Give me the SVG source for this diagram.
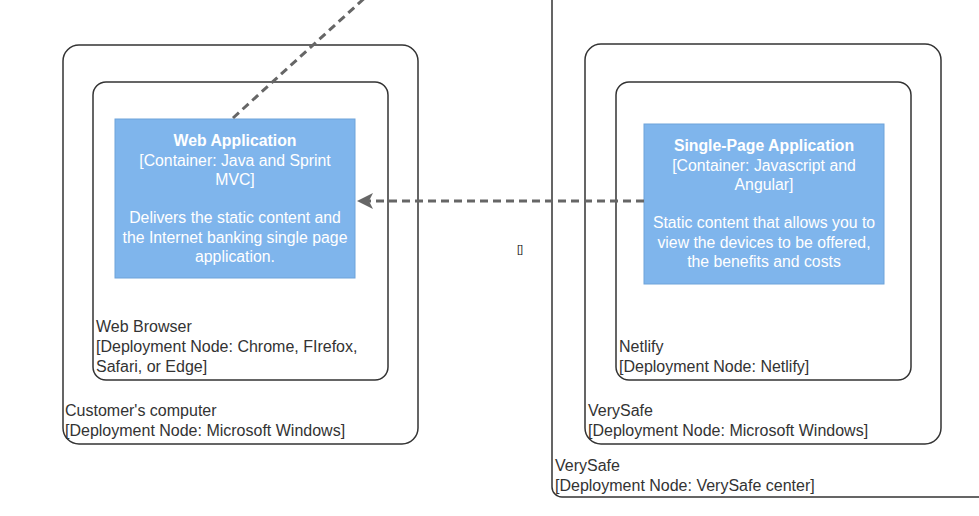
<svg xmlns="http://www.w3.org/2000/svg" width="979" height="516" viewBox="0 0 979 516">
<defs>
<style>
.node{fill:none;stroke:#333;stroke-width:1.5}
.cont{fill:#7FB5EC;stroke:#6FA3DA;stroke-width:1}
.lbl{font-family:"Liberation Sans",Arial,sans-serif;font-size:16px;fill:#333}
.ct{font-family:"Liberation Sans",Arial,sans-serif;font-size:15.8px;fill:#fff;text-anchor:middle}
.b{font-weight:bold}
.dash{fill:none;stroke:#666;stroke-width:3;stroke-dasharray:8 5}
</style>
<marker id="arr" viewBox="0 0 16 16" refX="15" refY="8" markerWidth="16" markerHeight="16" markerUnits="userSpaceOnUse" orient="auto">
<path d="M16,8 L0,0 L4,8 L0,16 Z" fill="#666"/>
</marker>
</defs>
<rect width="979" height="516" fill="#fff"/>
<g id="verysafe-center">
<rect class="node" x="552" y="-30" width="500" height="527" rx="10"/>
<text class="lbl" x="555" y="471">VerySafe</text>
<text class="lbl" x="555" y="491">[Deployment Node: VerySafe center]</text>
</g>
<g id="customers-computer">
<rect class="node" x="63" y="45" width="355" height="399" rx="16"/>
<text class="lbl" x="65" y="416">Customer's computer</text>
<text class="lbl" x="65" y="436">[Deployment Node: Microsoft Windows]</text>
</g>
<g id="web-browser">
<rect class="node" x="93" y="82" width="295" height="298" rx="13"/>
<text class="lbl" x="96" y="332">Web Browser</text>
<text class="lbl" x="96" y="352">[Deployment Node: Chrome, FIrefox,</text>
<text class="lbl" x="96" y="372">Safari, or Edge]</text>
</g>
<g id="web-application">
<rect class="cont" x="115" y="119" width="240" height="159"/>
<text class="ct b" x="235" y="146">Web Application</text>
<text class="ct" x="235" y="165.5">[Container: Java and Sprint</text>
<text class="ct" x="235" y="185">MVC]</text>
<text class="ct" x="235" y="223">Delivers the static content and</text>
<text class="ct" x="235" y="242.5">the Internet banking single page</text>
<text class="ct" x="235" y="262">application.</text>
</g>
<g id="verysafe-windows">
<rect class="node" x="585" y="44" width="356" height="400" rx="16"/>
<text class="lbl" x="588" y="416">VerySafe</text>
<text class="lbl" x="588" y="436">[Deployment Node: Microsoft Windows]</text>
</g>
<g id="netlify">
<rect class="node" x="616" y="82" width="295" height="298" rx="13"/>
<text class="lbl" x="619" y="352">Netlify</text>
<text class="lbl" x="619" y="372">[Deployment Node: Netlify]</text>
</g>
<g id="single-page-application">
<rect class="cont" x="644" y="124" width="240" height="160"/>
<text class="ct b" x="764" y="151">Single-Page Application</text>
<text class="ct" x="764" y="170.5">[Container: Javascript and</text>
<text class="ct" x="764" y="190">Angular]</text>
<text class="ct" x="764" y="228">Static content that allows you to</text>
<text class="ct" x="764" y="247.5">view the devices to be offered,</text>
<text class="ct" x="764" y="267">the benefits and costs</text>
</g>
<g id="connectors">
<path class="dash" d="M644,201 L358,201" marker-end="url(#arr)"/>
<path class="dash" d="M233,118 L380,-16"/>
<text class="lbl" x="517" y="253" style="font-size:11px">[]</text>
</g>
</svg>
